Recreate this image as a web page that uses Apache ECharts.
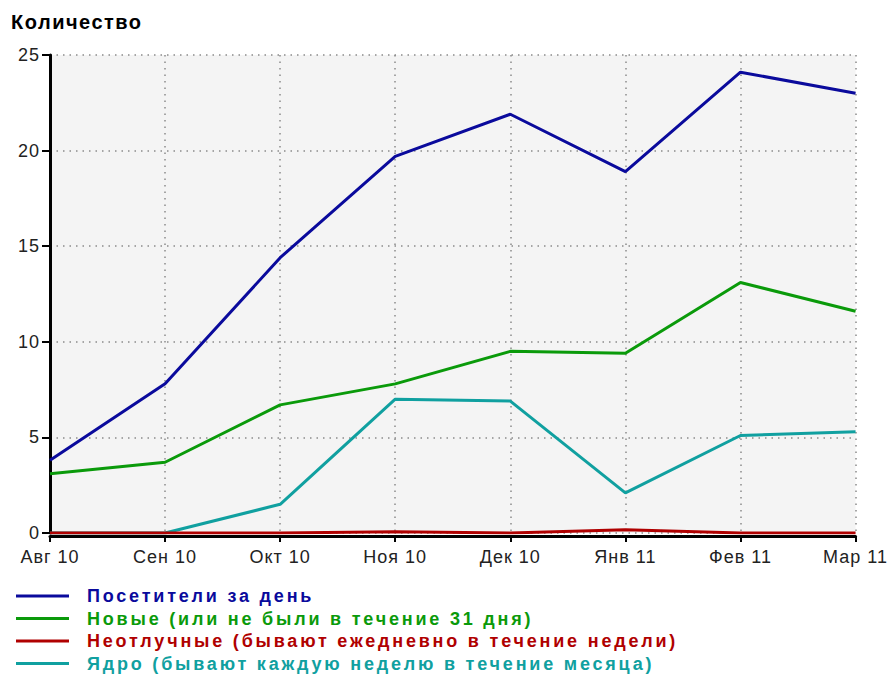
<!DOCTYPE html>
<html>
<head>
<meta charset="utf-8">
<script src="https://cdn.jsdelivr.net/npm/echarts@6/dist/echarts.min.js"></script>
<style>
  html, body { margin: 0; padding: 0; background: #ffffff; }
  #chart { width: 888px; height: 675px; }
</style>
</head>
<body>
<div id="chart"></div>
<script>
const categories = ['Авг 10', 'Сен 10', 'Окт 10', 'Ноя 10', 'Дек 10', 'Янв 11', 'Фев 11', 'Мар 11'];
const visitorsPerDay = [3.8, 7.8, 14.4, 19.7, 21.9, 18.9, 24.1, 23.0];
const newVisitors = [3.1, 3.7, 6.7, 7.8, 9.5, 9.4, 13.1, 11.6];
const regulars = [0, 0, 0, 0.07, 0, 0.17, 0, 0];
const core = [0, 0, 1.5, 7.0, 6.9, 2.1, 5.1, 5.3];
const yTicks = { min: 0, max: 25, step: 5 };
const titleText = 'Количество';
const seriesNames = [
  'Посетители за день',
  'Новые (или не были в течение 31 дня)',
  'Неотлучные (бывают ежедневно в течение недели)',
  'Ядро (бывают каждую неделю в течение месяца)'
];
const seriesColors = ['#0a0a9c', '#0a9a0a', '#b00000', '#10a0a0'];
const seriesData = [visitorsPerDay, newVisitors, regulars, core];
const seriesZ = [2, 2, 4, 3];

const FONT = '"Liberation Sans", Arial, sans-serif';

const chart = echarts.init(document.getElementById('chart'), null, { renderer: 'svg' });

const option = {
  animation: false,
  backgroundColor: '#ffffff',
  title: {
    text: titleText,
    left: 11,
    top: 12,
    padding: 0,
    textStyle: { fontFamily: FONT, fontSize: 20, fontWeight: 'bold', color: '#000000' }
  },
  grid: {
    left: 50, right: 30, top: 55, bottom: 142,
    show: true, backgroundColor: '#f4f4f4', borderWidth: 0,
    containLabel: false
  },
  legend: {
    orient: 'vertical',
    left: 16,
    top: 585,
    padding: 0,
    icon: 'rect',
    itemWidth: 53,
    itemHeight: 3,
    itemGap: 0.5,
    data: seriesNames.map((n, i) => ({
      name: n,
      textStyle: { color: seriesColors[i] }
    })),
    textStyle: {
      fontFamily: FONT, fontSize: 18, fontWeight: 'bold',
      lineHeight: 22, padding: [0, 0, 0, 13]
    }
  },
  xAxis: {
    type: 'category',
    data: categories,
    boundaryGap: false,
    offset: 3,
    axisLine: { show: true, onZero: false, lineStyle: { color: '#000000', width: 3 } },
    axisTick: { show: true, length: 6, lineStyle: { color: '#000000', width: 2 } },
    axisLabel: { fontFamily: FONT, fontSize: 18, color: '#222222', margin: 12 },
    splitLine: { show: true, lineStyle: { color: '#8a8a8a', width: 1.5, type: [1.5, 5] } }
  },
  yAxis: {
    type: 'value',
    min: yTicks.min,
    max: yTicks.max,
    interval: yTicks.step,
    axisLine: { show: true, lineStyle: { color: '#000000', width: 3 } },
    axisTick: { show: true, length: 8, lineStyle: { color: '#000000', width: 2 } },
    axisLabel: { fontFamily: FONT, fontSize: 18, color: '#222222', margin: 10 },
    splitLine: { show: true, lineStyle: { color: '#8a8a8a', width: 1.5, type: [1.5, 5] } }
  },
  series: seriesNames.map((n, i) => ({
    name: n,
    type: 'line',
    data: seriesData[i],
    z: seriesZ[i],
    color: seriesColors[i],
    showSymbol: false,
    symbol: 'none',
    lineStyle: { color: seriesColors[i], width: 3 },
    emphasis: { disabled: true }
  }))
};

chart.setOption(option);

function applySpacing() {
  const boldTexts = new Set(seriesNames);
  document.querySelectorAll('#chart text').forEach(t => {
    const s = t.textContent.trim();
    if (s === titleText) t.style.letterSpacing = '1.5px';
    else if (boldTexts.has(s)) t.style.letterSpacing = '2.8px';
    else t.style.letterSpacing = '1px';
  });
}
applySpacing();
chart.on('finished', applySpacing);
</script>
</body>
</html>
